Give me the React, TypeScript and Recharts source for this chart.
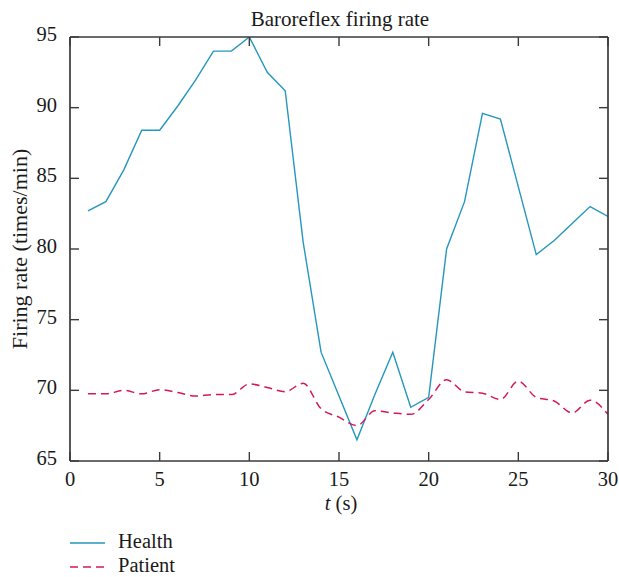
import React from "react";
import { LineChart, Line, XAxis, YAxis } from "recharts";

const times = [1, 2, 3, 4, 5, 6, 7, 8, 9, 10, 11, 12, 13, 14, 15, 16, 17, 18, 19, 20, 21, 22, 23, 24, 25, 26, 27, 28, 29, 30];
const health = [82.7, 83.35, 85.6, 88.4, 88.4, 90.1, 91.95, 94.0, 94.0, 95.0, 92.5, 91.2, 80.5, 72.7, 69.6, 66.5, 69.7, 72.7, 68.8, 69.5, 80.0, 83.35, 89.6, 89.2, 84.4, 79.6, 80.6, 81.8, 83.0, 82.3];
const patient = [69.75, 69.75, 70.0, 69.75, 70.05, 69.85, 69.6, 69.7, 69.7, 70.45, 70.2, 69.9, 70.5, 68.7, 68.1, 67.5, 68.55, 68.4, 68.3, 69.35, 70.75, 69.9, 69.8, 69.35, 70.65, 69.5, 69.25, 68.4, 69.3, 68.3];
const xTicks = [0, 5, 10, 15, 20, 25, 30];
const yTicks = [65, 70, 75, 80, 85, 90, 95];

const data = times.map((t, i) => ({ t, Health: health[i], Patient: patient[i] }));

const AX = "#3a3a3a";
const HEALTH_COLOR = "#2596be";
const PATIENT_COLOR = "#d4195a";
const FONT = "'Liberation Serif', 'Times New Roman', serif";
const FS = 20.5;
const TL = 9;

const BottomTick = (p: any) => (
  <g>
    <line x1={p.x} y1={p.y} x2={p.x} y2={p.y - TL} stroke={AX} strokeWidth={1.4} />
    <text x={p.x} y={p.y + 25} textAnchor="middle" fontFamily={FONT} fontSize={FS} fill="#1a1a1a">
      {p.payload.value}
    </text>
  </g>
);
const TopTick = (p: any) => (
  <line x1={p.x} y1={p.y} x2={p.x} y2={p.y + TL} stroke={AX} strokeWidth={1.4} />
);
const LeftTick = (p: any) => (
  <g>
    <line x1={p.x} y1={p.y} x2={p.x + TL} y2={p.y} stroke={AX} strokeWidth={1.4} />
    <text x={p.x - 13} y={p.y + 4} textAnchor="end" fontFamily={FONT} fontSize={FS} fill="#1a1a1a">
      {p.payload.value}
    </text>
  </g>
);
const RightTick = (p: any) => (
  <line x1={p.x} y1={p.y} x2={p.x - TL} y2={p.y} stroke={AX} strokeWidth={1.4} />
);

export default function App() {
  const W = 619;
  const H = 577;
  const axisLine = { stroke: AX, strokeWidth: 1.7 };
  return (
    <div style={{ position: "relative", width: W, height: H }}>
      <style>{"html,body{margin:0;padding:0;overflow:hidden}"}</style>
      <LineChart width={W} height={H} data={data} margin={{ top: 36, right: 10, bottom: 76, left: 30 }}>
        <XAxis
          dataKey="t"
          type="number"
          domain={[0, 30]}
          ticks={xTicks}
          allowDataOverflow
          height={40}
          tickSize={0}
          tickMargin={0}
          tickLine={false}
          axisLine={axisLine}
          tick={<BottomTick />}
          interval={0}
        />
        <XAxis
          xAxisId="top"
          orientation="top"
          dataKey="t"
          type="number"
          domain={[0, 30]}
          ticks={xTicks}
          allowDataOverflow
          height={1}
          tickSize={0}
          tickMargin={0}
          tickLine={false}
          axisLine={axisLine}
          tick={<TopTick />}
          interval={0}
        />
        <YAxis
          type="number"
          domain={[65, 95]}
          ticks={yTicks}
          allowDataOverflow
          width={40}
          tickSize={0}
          tickMargin={0}
          tickLine={false}
          axisLine={axisLine}
          tick={<LeftTick />}
          interval={0}
        />
        <YAxis
          yAxisId="right"
          orientation="right"
          type="number"
          domain={[65, 95]}
          ticks={yTicks}
          allowDataOverflow
          width={1}
          tickSize={0}
          tickMargin={0}
          tickLine={false}
          axisLine={axisLine}
          tick={<RightTick />}
          interval={0}
        />
        <Line
          type="linear"
          dataKey="Health"
          stroke={HEALTH_COLOR}
          strokeWidth={1.4}
          dot={false}
          isAnimationActive={false}
        />
        <Line
          type="monotone"
          dataKey="Patient"
          stroke={PATIENT_COLOR}
          strokeWidth={1.5}
          strokeDasharray="8 5"
          dot={false}
          isAnimationActive={false}
        />
      </LineChart>
      <svg
        width={W}
        height={H}
        style={{ position: "absolute", left: 0, top: 0, pointerEvents: "none" }}
        fontFamily={FONT}
        fontSize={FS}
        fill="#1a1a1a"
      >
        <text x={340} y={26} textAnchor="middle" fontSize={21}>Baroreflex firing rate</text>
        <text x={27} y={249} textAnchor="middle" fontSize={22} transform="rotate(-90 27 249)">Firing rate (times/min)</text>
        <text x={341} y={510} textAnchor="middle">
          <tspan fontStyle="italic">t</tspan> (s)
        </text>
        <line x1={70} y1={543} x2={105} y2={543} stroke={HEALTH_COLOR} strokeWidth={1.4} />
        <text x={118} y={548}>Health</text>
        <line x1={70} y1={567} x2={105} y2={567} stroke={PATIENT_COLOR} strokeWidth={1.5} strokeDasharray="8 5" />
        <text x={118} y={572}>Patient</text>
      </svg>
    </div>
  );
}
